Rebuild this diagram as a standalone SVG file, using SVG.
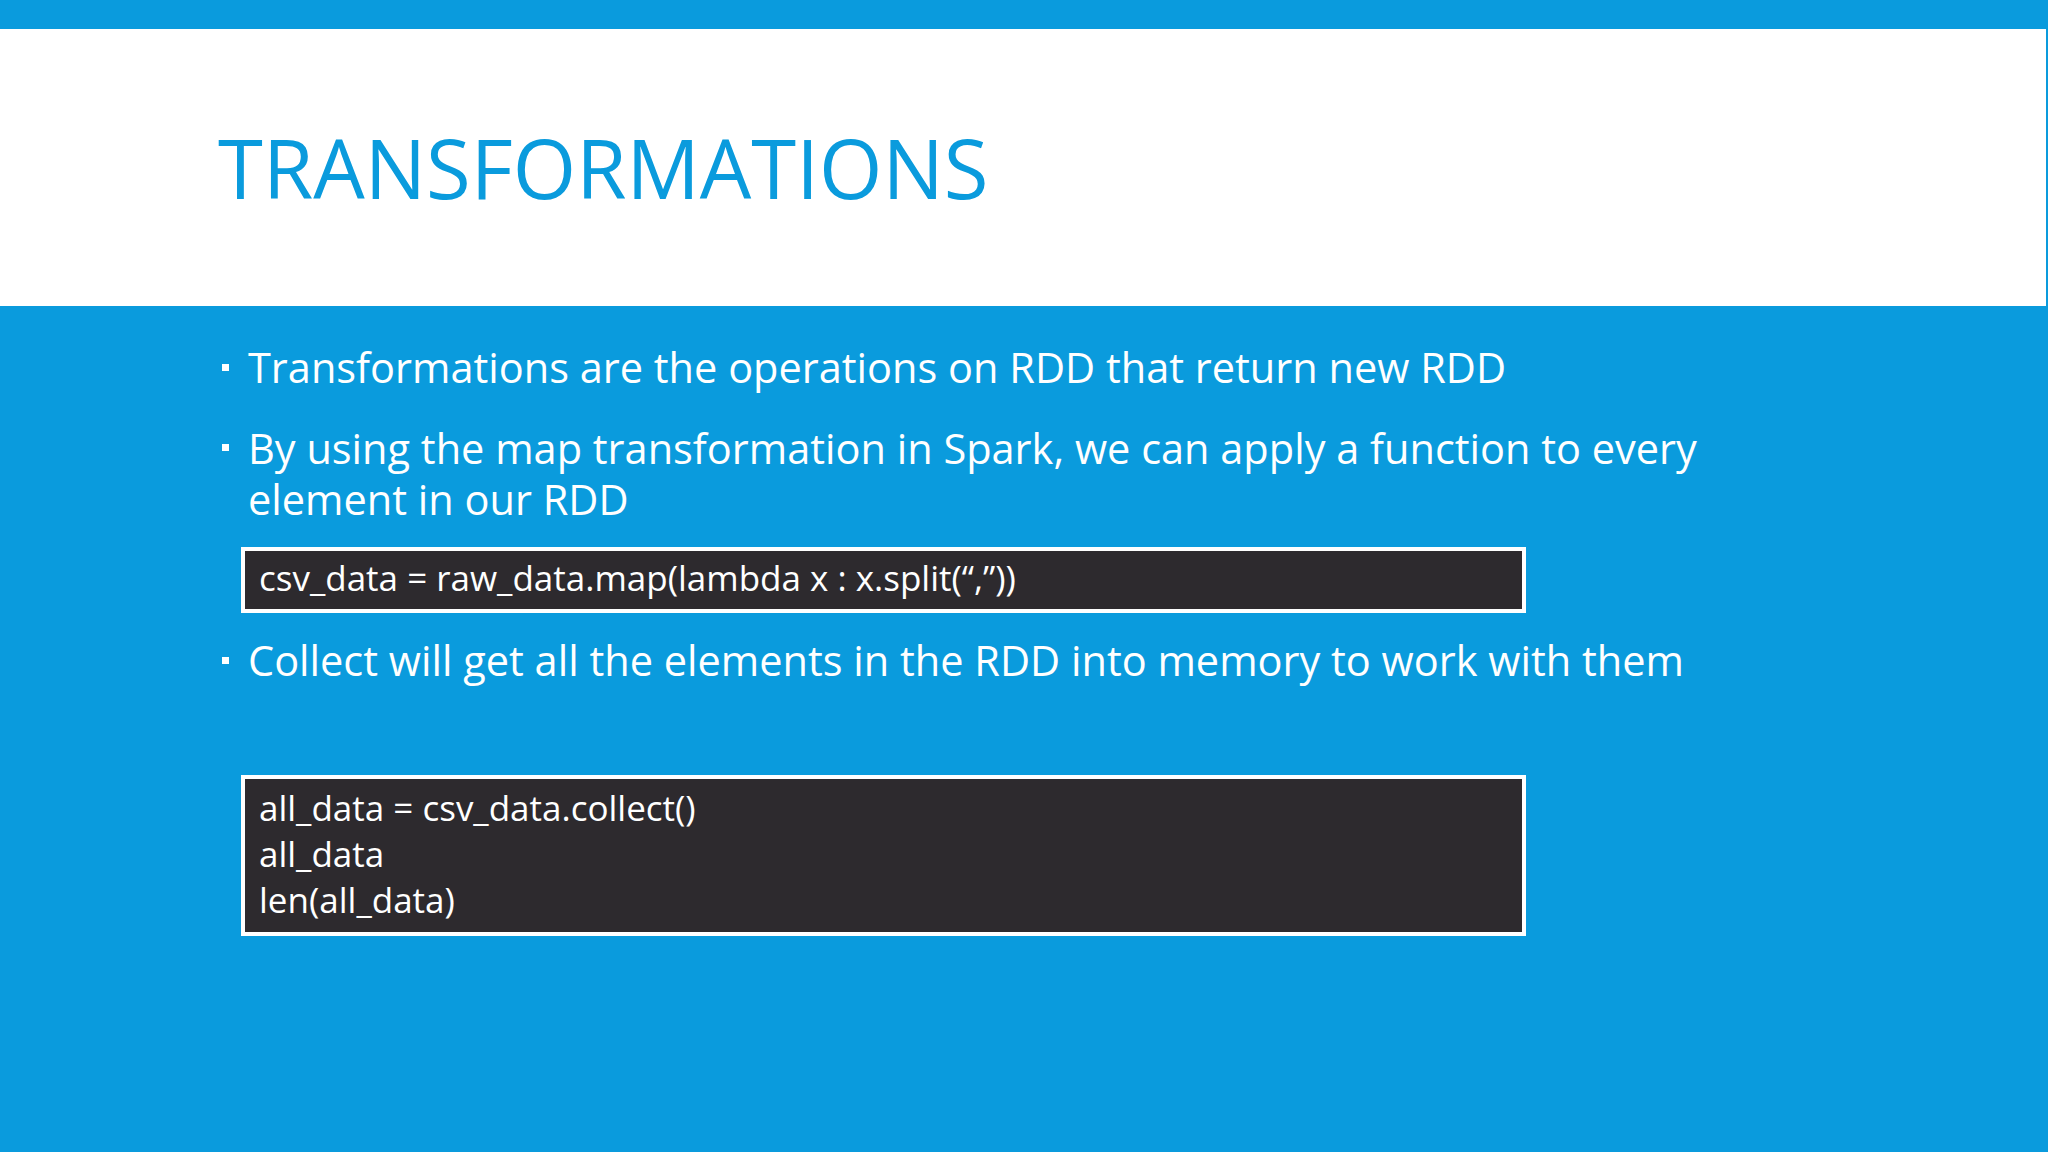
<svg xmlns="http://www.w3.org/2000/svg" width="2048" height="1152" viewBox="0 0 2048 1152">
<style>
.t{font-family:"Open Sans","Liberation Sans",sans-serif;fill:#fff;font-size:41.5px}
.c{font-family:"Open Sans","Liberation Sans",sans-serif;fill:#fff;font-size:35px}
.box{fill:#2d2a2e;stroke:#fff;stroke-width:4}
</style>
<rect width="2048" height="1152" fill="#0a9bdd"/>
<rect x="0" y="29" width="2046" height="277" fill="#fff"/>
<text x="218" y="199" font-family="'Open Sans','Liberation Sans',sans-serif" font-size="81.5" fill="#0a9bdd">TRANSFORMATIONS</text>
<g id="bullet1"><rect x="222" y="364" width="7" height="7" fill="#fff"/><text class="t" x="248" y="383">Transformations are the operations on RDD that return new RDD</text></g>
<g id="bullet2"><rect x="222" y="444" width="7" height="7" fill="#fff"/><text class="t" x="248" y="464">By using the map transformation in Spark, we can apply a function to every</text><text class="t" x="248" y="515">element in our RDD</text></g>
<g id="code1"><rect class="box" x="243" y="549" width="1281" height="62"/><text class="c" x="259" y="591">csv_data = raw_data.map(lambda x : x.split(“,”))</text></g>
<g id="bullet3"><rect x="222" y="657" width="7" height="7" fill="#fff"/><text class="t" x="248" y="676">Collect will get all the elements in the RDD into memory to work with them</text></g>
<g id="code2"><rect class="box" x="243" y="777" width="1281" height="157"/><text class="c" x="259" y="821">all_data = csv_data.collect()</text><text class="c" x="259" y="867">all_data</text><text class="c" x="259" y="913">len(all_data)</text></g>
</svg>
